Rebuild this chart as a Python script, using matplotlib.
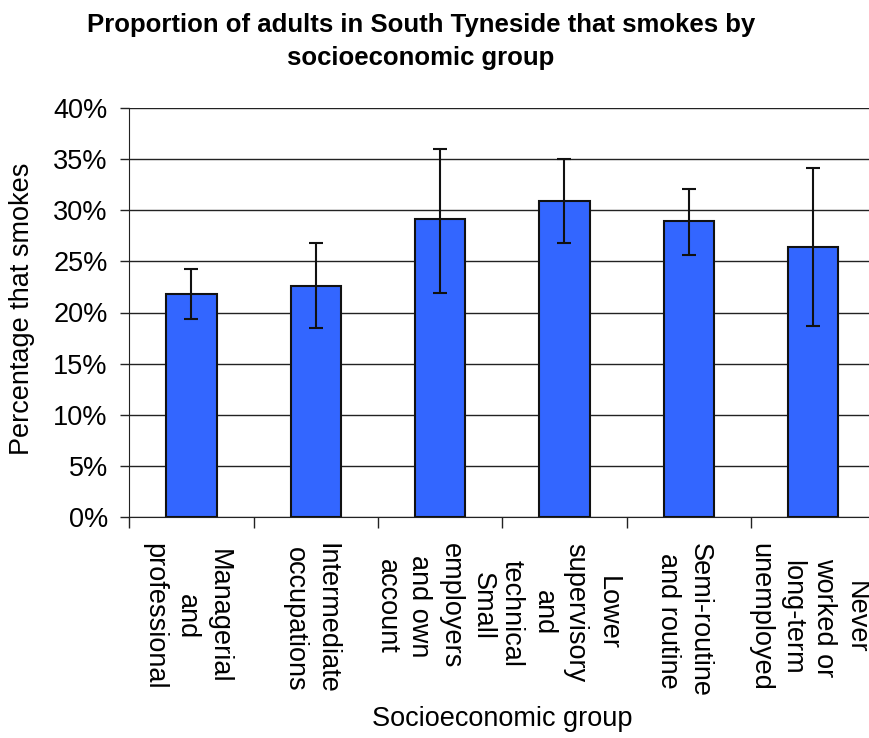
import matplotlib
matplotlib.use("Agg")
import matplotlib.pyplot as plt
import numpy as np
from matplotlib.ticker import PercentFormatter, FixedLocator
from matplotlib.transforms import ScaledTranslation

plt.rcParams['font.family'] = ['Liberation Sans', 'DejaVu Sans']

categories = [
    "Managerial\nand\nprofessional",
    "Intermediate\noccupations",
    "Small\nemployers\nand own\naccount",
    "Lower\nsupervisory\nand\ntechnical",
    "Semi-routine\nand routine",
    "Never\nworked or\nlong-term\nunemployed",
]
values = [21.8, 22.6, 29.1, 30.9, 28.9, 26.4]
err_upper = [24.3, 26.8, 36.0, 35.0, 32.1, 34.1]
err_lower = [19.4, 18.5, 21.9, 26.8, 25.6, 18.7]
yticks = [0, 5, 10, 15, 20, 25, 30, 35, 40]

W, H = 869, 738
fig = plt.figure(figsize=(W / 100, H / 100), dpi=100)
ax = fig.add_axes([129.3 / W, 1 - 517 / H, 746 / W, 409 / H])

x = np.arange(len(categories))
vals = np.array(values)
yerr = np.array([vals - np.array(err_lower), np.array(err_upper) - vals])

ax.set_axisbelow(True)
ax.yaxis.grid(True, color='#222222', linewidth=1.0)
ax.bar(x, vals, width=0.406, color='#3366FF', edgecolor='#111111', linewidth=1.5, zorder=2)
ax.errorbar(x, vals, yerr=yerr, fmt='none', ecolor='#111111', elinewidth=1.5,
            capsize=4.7, capthick=1.5, zorder=3)

ax.set_xlim(-0.5, len(categories) - 0.5)
ax.set_ylim(0, 40)
ax.set_yticks(yticks)
ax.yaxis.set_major_formatter(PercentFormatter(decimals=0))
ax.tick_params(axis='y', direction='out', length=6.5, width=1, labelsize=19.5, pad=9, color='#222222')

ax.set_xticks(x)
ax.set_xticklabels(categories, rotation=270, ha='center', va='top',
                   multialignment='center', fontsize=19.5, linespacing=1.3)
ax.tick_params(axis='x', which='major', length=0, pad=19)
ax.xaxis.set_minor_locator(FixedLocator(np.arange(-0.5, len(categories), 1.0)))
ax.tick_params(axis='x', which='minor', direction='out', length=8, width=1, color='#222222')
shift = ScaledTranslation(-5 / 100, 0, fig.dpi_scale_trans)
for lbl in ax.get_xticklabels():
    lbl.set_transform(lbl.get_transform() + shift)

for s in ['top', 'right']:
    ax.spines[s].set_visible(False)
ax.spines['left'].set_color('#222222')
ax.spines['bottom'].set_color('#222222')

ax.set_ylabel('Percentage that smokes', fontsize=19.5, va='center', ha='center')
ax.yaxis.set_label_coords((22 - 129.3) / 746, 0.51)
ax.set_xlabel('Socioeconomic group', fontsize=19.5, va='center', ha='center')
ax.xaxis.set_label_coords(0.5, (517 - 719) / 409)

fig.text(421 / W, 1 - 25 / H, 'Proportion of adults in South Tyneside that smokes by',
         ha='center', va='center', fontsize=18.5, fontweight='bold')
fig.text(421 / W, 1 - 58 / H, 'socioeconomic group',
         ha='center', va='center', fontsize=18.5, fontweight='bold')

fig.savefig('out.png', dpi=100)
